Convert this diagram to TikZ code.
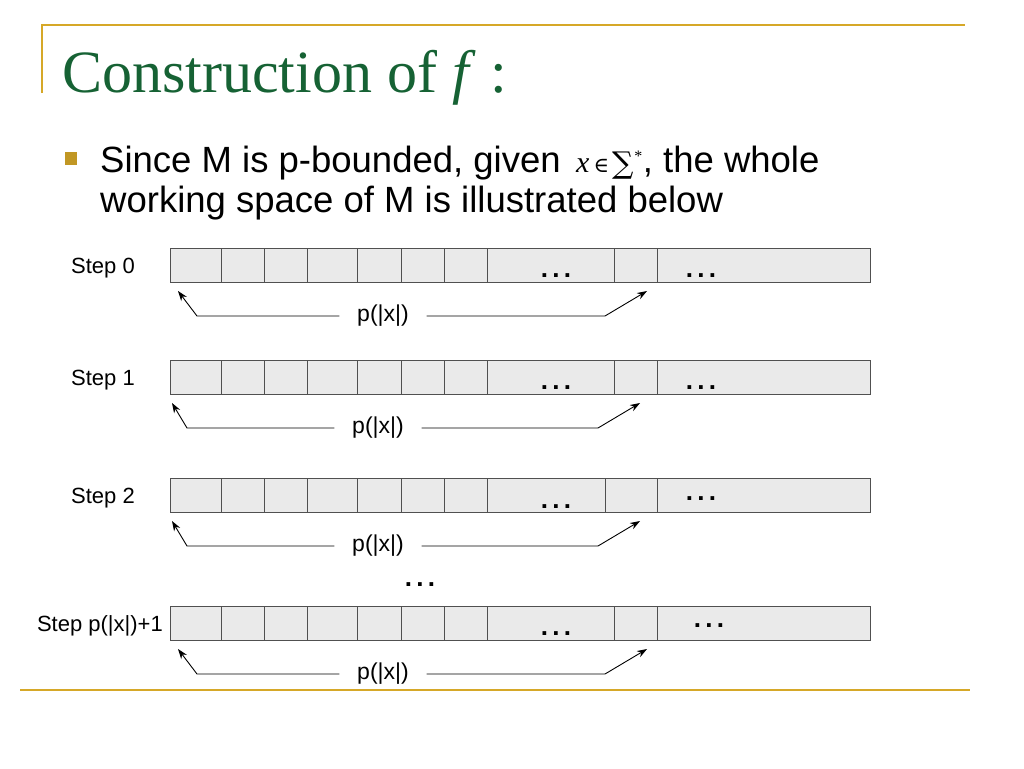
\documentclass[tikz,border=0pt]{standalone}
\usepackage{fontspec}
\setmainfont{Liberation Sans}
\newfontfamily\titlefont{Liberation Serif}
\newfontfamily\symfont{DejaVu Serif}
\usetikzlibrary{arrows.meta}
\definecolor{titlegreen}{RGB}{22,98,52}
\definecolor{gold}{RGB}{214,168,40}
\definecolor{cellfill}{RGB}{234,234,234}
\definecolor{cellline}{RGB}{80,80,80}
\tikzset{
  cell/.style={draw=cellline, fill=cellfill, line width=1.3pt, anchor=north west, inner sep=0pt, minimum height=34pt},
  steplbl/.style={font=\fontsize{22}{26}\selectfont, anchor=east, inner sep=0pt},
  plbl/.style={font=\fontsize{23}{27}\selectfont, inner xsep=0pt, inner ysep=0pt, minimum width=87pt},
  dots/.style={font=\fontsize{26}{30}\selectfont\bfseries, inner sep=0pt, anchor=base},
  span/.style={line width=0.9pt, -{Stealth[length=10pt,width=7pt]}},
  rule/.style={draw=gold, line width=2pt},
  body/.style={anchor=base west, inner sep=0pt, font=\fontsize{36.5}{41}\selectfont}
}
\begin{document}
\begin{tikzpicture}[x=1pt,y=-1pt]
\useasboundingbox (0,0) rectangle (1024,768);
% frame lines
\coordinate (tl) at (42,25); \coordinate (tr) at (965,25); \coordinate (tv) at (42,93);
\draw[rule] (tv) -- (tl) -- (tr);
\coordinate (bl) at (20,690); \coordinate (br) at (970,690);
\draw[rule] (bl) -- (br);
% title
\node[anchor=base west, inner sep=0pt, text=titlegreen, font=\titlefont\fontsize{60}{64}\selectfont] (title) at (62,92) {Construction of \textit{f} :};
% bullet
\node[fill=gold!90!black, minimum width=12pt, minimum height=13pt, inner sep=0pt, anchor=north west] (bul) at (65,152) {};
\node[body] (l1a) at (100,172) {Since M is p-bounded, given};
\node[anchor=base west, inner sep=0pt] (l1m) at (576,172) {\titlefont\fontsize{30}{34}\selectfont\textit{x}\kern4pt{\symfont\fontsize{21}{24}\selectfont ∈}\kern3pt\raisebox{-1.5pt}{\symfont\fontsize{30}{34}\selectfont ∑}\kern1pt\raisebox{11pt}{\fontsize{16}{18}\selectfont *}};
\node[body] (l1b) at (l1m.base east) {, the whole};
\node[body] (l2) at (100,212) {working space of M is illustrated below};
% tapes
\foreach \r/\yt/\dv in {0/248/614, 1/360/614, 2/478/605, 3/606/614}{
  \foreach \xa/\xb [count=\i] in {170/221,221/264,264/307,307/357,357/401,401/444,444/487}{
    \node[cell, minimum width=\xb-\xa] (r\r c\i) at (\xa,\yt) {};
  }
  \node[cell, minimum width=\dv-487] (r\r c8) at (487,\yt) {};
  \node[cell, minimum width=657-\dv] (r\r c9) at (\dv,\yt) {};
  \node[cell, minimum width=870-657] (r\r c10) at (657,\yt) {};
}
% step labels
\node[steplbl] (s0) at (135,268) {Step 0};
\node[steplbl] (s1) at (135,380) {Step 1};
\node[steplbl] (s2) at (135,498) {Step 2};
\node[steplbl] (s3) at (163,626) {Step p(|x|)+1};
% dots
\node[dots] (d0a) at (556,277) {.\,.\,.};
\node[dots] (d0b) at (701,277) {.\,.\,.};
\node[dots] (d1a) at (556,389) {.\,.\,.};
\node[dots] (d1b) at (701,389) {.\,.\,.};
\node[dots] (d2a) at (556,508) {.\,.\,.};
\node[dots] (d2b) at (701,500) {.\,.\,.};
\node[dots] (dm) at (420,586) {.\,.\,.};
\node[dots] (d3a) at (556,635) {.\,.\,.};
\node[dots] (d3b) at (709,627) {.\,.\,.};
% spans
\foreach \r/\y/\tl/\cl/\cx/\tr in {0/316/178/197/383/647, 1/428/172/187/378/640, 2/546/172/187/378/640, 3/674/178/197/383/647}{
  \node[plbl] (p\r) at (\cx,\y) {p(|x|)};
  \coordinate (lt\r) at (\tl,\y-25);
  \coordinate (lc\r) at (\cl,\y);
  \coordinate (rt\r) at (\tr,\y-25);
  \coordinate (rc\r) at (\tr-42,\y);
  \draw[span] (p\r.west) -- (lc\r) -- (lt\r);
  \draw[span] (p\r.east) -- (rc\r) -- (rt\r);
}
\end{tikzpicture}
\end{document}
